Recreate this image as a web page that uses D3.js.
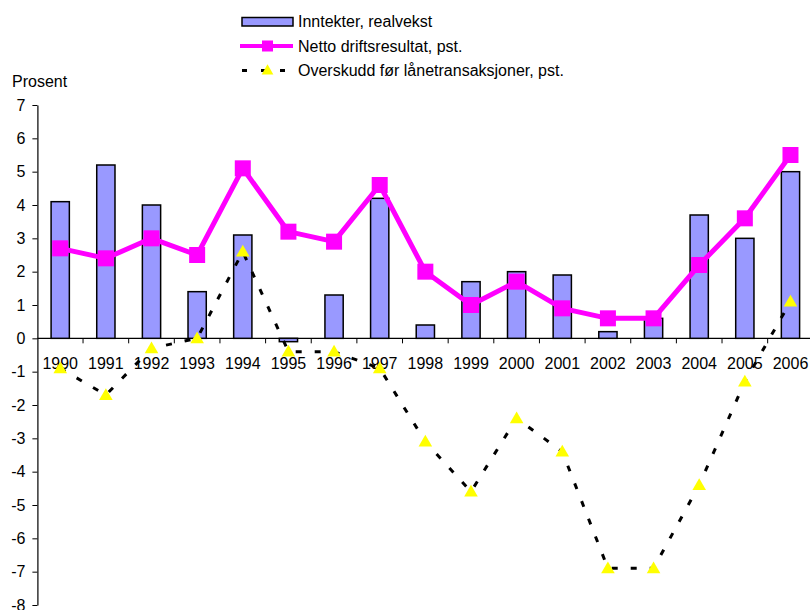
<!DOCTYPE html>
<html>
<head>
<meta charset="utf-8">
<script src="https://cdn.jsdelivr.net/npm/d3@7"></script>
<style>
  html, body { margin: 0; padding: 0; background: #fff; }
  svg { display: block; font-family: "Liberation Sans", Arial, sans-serif; }
</style>
</head>
<body>
<svg id="chart" width="810" height="610"></svg>
<script>
const years = ["1990","1991","1992","1993","1994","1995","1996","1997","1998","1999","2000","2001","2002","2003","2004","2005","2006"];
const inntekter = [4.1, 5.2, 4.0, 1.4, 3.1, -0.1, 1.3, 4.2, 0.4, 1.7, 2.0, 1.9, 0.2, 0.6, 3.7, 3.0, 5.0];
const netto = [2.7, 2.4, 3.0, 2.5, 5.1, 3.2, 2.9, 4.6, 2.0, 1.0, 1.7, 0.9, 0.6, 0.6, 2.2, 3.6, 5.5];
const overskudd = [-0.9, -1.7, -0.3, 0.0, 2.6, -0.4, -0.4, -0.9, -3.1, -4.6, -2.4, -3.4, -6.9, -6.9, -4.4, -1.3, 1.1];
const yTicks = [-8, -7, -6, -5, -4, -3, -2, -1, 0, 1, 2, 3, 4, 5, 6, 7];
const seriesNames = ["Inntekter, realvekst", "Netto driftsresultat, pst.", "Overskudd før lånetransaksjoner, pst."];
const yTitle = "Prosent";

const svg = d3.select("#chart");
const FS = 16;

const x = d3.scaleBand().domain(years).range([37.4, 813.3]).padding(0);
const y = d3.scaleLinear().domain([-8, 7]).range([605, 105]);
const bw = x.bandwidth() * 0.4;
const cx = d => x(d) + x.bandwidth() / 2;

// Y axis
const yAxis = svg.append("g")
  .attr("transform", "translate(37.4,0)")
  .call(d3.axisLeft(y).tickValues(yTicks).tickSize(5).tickSizeOuter(0).tickPadding(7)
    .tickFormat(d => String(d)));
yAxis.select(".domain").attr("stroke", "#000").attr("stroke-width", 1.2);
yAxis.selectAll(".tick line").attr("stroke", "#000").attr("stroke-width", 1);
yAxis.selectAll(".tick text").attr("font-size", FS).attr("fill", "#000")
  .attr("font-family", "Liberation Sans, Arial, sans-serif");

// y title
svg.append("text").attr("x", 12).attr("y", 87).attr("font-size", FS).attr("fill", "#000").text(yTitle);

// X axis at zero
const xAxis = svg.append("g")
  .attr("transform", `translate(0,${y(0)})`)
  .call(d3.axisBottom(x).tickSize(0).tickPadding(0).tickSizeOuter(0));
xAxis.select(".domain").remove();
xAxis.selectAll(".tick line").remove();
xAxis.selectAll(".tick text").attr("font-size", FS).attr("fill", "#000")
  .attr("font-family", "Liberation Sans, Arial, sans-serif")
  .attr("dy", null).attr("y", 31);
svg.append("line").attr("x1", 37.4).attr("x2", 813).attr("y1", y(0)).attr("y2", y(0))
  .attr("stroke", "#000").attr("stroke-width", 1.2);
svg.append("g").selectAll("line").data(years.slice(1))
  .join("line")
  .attr("x1", d => x(d)).attr("x2", d => x(d))
  .attr("y1", y(0)).attr("y2", y(0) + 5)
  .attr("stroke", "#000").attr("stroke-width", 1);

// Bars
svg.append("g").selectAll("rect").data(years)
  .join("rect")
  .attr("x", (d) => cx(d) - bw / 2)
  .attr("y", (d, i) => Math.min(y(inntekter[i]), y(0)))
  .attr("width", bw)
  .attr("height", (d, i) => Math.abs(y(inntekter[i]) - y(0)))
  .attr("fill", "#9999FF").attr("stroke", "#000").attr("stroke-width", 1.5);

// Netto line
const lineN = d3.line().x((d, i) => cx(years[i])).y(d => y(d));
svg.append("path").datum(netto).attr("d", lineN)
  .attr("fill", "none").attr("stroke", "#FF00FF").attr("stroke-width", 5).attr("stroke-linejoin", "round");
svg.append("g").selectAll("rect").data(netto)
  .join("rect")
  .attr("x", (d, i) => cx(years[i]) - 8).attr("y", d => y(d) - 8)
  .attr("width", 16).attr("height", 16).attr("fill", "#FF00FF");

// Overskudd dashed line
svg.append("path").datum(overskudd).attr("d", lineN)
  .attr("fill", "none").attr("stroke", "#000").attr("stroke-width", 3)
  .attr("stroke-dasharray", "6,13");
const tri = d3.symbol().type(d3.symbolTriangle).size(80);
svg.append("g").selectAll("path").data(overskudd)
  .join("path")
  .attr("d", tri)
  .attr("transform", (d, i) => `translate(${cx(years[i])},${y(d) + 1})`)
  .attr("fill", "#FFFF00");

// Legend
const lg = svg.append("g");
lg.append("rect").attr("x", 242).attr("y", 17.5).attr("width", 51).attr("height", 8.5)
  .attr("fill", "#9999FF").attr("stroke", "#000").attr("stroke-width", 1.5);
lg.append("line").attr("x1", 240).attr("x2", 293).attr("y1", 46).attr("y2", 46)
  .attr("stroke", "#FF00FF").attr("stroke-width", 4);
lg.append("rect").attr("x", 262).attr("y", 40.5).attr("width", 11).attr("height", 11).attr("fill", "#FF00FF");
lg.append("line").attr("x1", 242).attr("x2", 293).attr("y1", 70.5).attr("y2", 70.5)
  .attr("stroke", "#000").attr("stroke-width", 3).attr("stroke-dasharray", "5,14");
lg.append("path").attr("d", d3.symbol().type(d3.symbolTriangle).size(60))
  .attr("transform", "translate(267.5,71)").attr("fill", "#FFFF00");
lg.selectAll("text").data(seriesNames).join("text")
  .attr("x", 298).attr("y", (d, i) => 27 + i * 24.5)
  .attr("font-size", FS).attr("fill", "#000").text(d => d);
</script>
</body>
</html>
